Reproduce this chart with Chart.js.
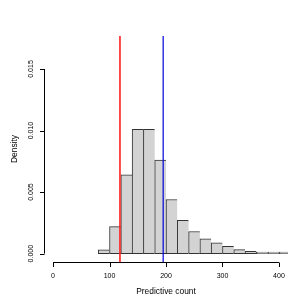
<!DOCTYPE html>
<html>
<head>
    <title>Predictive count</title>
    <script src="https://cdn.jsdelivr.net/npm/chart.js"></script>
    <style>
        html, body { margin: 0; padding: 0; background: #fff; }
        #wrap { width: 307px; height: 307px; }
    </style>
</head>
<body>
    <div id="wrap"><canvas id="histChart" width="307" height="307"></canvas></div>

    <script>
        // Histogram bins (width 20) and densities
        const binCenters = [90, 110, 130, 150, 170, 190, 210, 230, 250, 270, 290, 310, 330, 350, 370, 390, 410];
        const densities = [0.0003, 0.0022, 0.0064, 0.0101, 0.0101, 0.0076, 0.0044, 0.0027, 0.0018,
                           0.0012, 0.00087, 0.0006, 0.00033, 0.00019, 0.00013, 0.00013, 0.00012];

        // Vertical reference lines
        const redLine = 118.5;
        const blueLine = 195;

        // Axis ranges (R style with 4% extension) and ticks
        const xMin = -16, xMax = 416;
        const yMin = -0.00068, yMax = 0.01768;
        const xTicks = [0, 100, 200, 300, 400];
        const yTicks = [0, 0.005, 0.010, 0.015];
        const yTickLabels = ['0.000', '0.005', '0.010', '0.015'];

        const FONT = '"Liberation Sans", Arial, sans-serif';

        // Axes drawn R-like (axis line only over the tick range)
        const rAxes = {
            id: 'rAxes',
            afterDraw(chart) {
                const ctx = chart.ctx;
                const xs = chart.scales.x, ys = chart.scales.y;
                const area = chart.chartArea;
                ctx.save();
                ctx.strokeStyle = '#000';
                ctx.fillStyle = '#000';
                ctx.lineWidth = 1;

                // x axis
                const yA = Math.round(area.bottom) + 0.5;
                ctx.beginPath();
                ctx.moveTo(xs.getPixelForValue(xTicks[0]), yA);
                ctx.lineTo(xs.getPixelForValue(xTicks[xTicks.length - 1]), yA);
                xTicks.forEach(t => {
                    const px = Math.round(xs.getPixelForValue(t)) + 0.5;
                    ctx.moveTo(px, yA);
                    ctx.lineTo(px, yA + 4.5);
                });
                ctx.stroke();
                ctx.font = '7px ' + FONT;
                ctx.textAlign = 'center';
                ctx.textBaseline = 'middle';
                xTicks.forEach(t => ctx.fillText(String(t), xs.getPixelForValue(t), yA + 14));

                // y axis
                const xA = Math.round(area.left) + 0.5;
                ctx.beginPath();
                ctx.moveTo(xA, ys.getPixelForValue(yTicks[0]));
                ctx.lineTo(xA, ys.getPixelForValue(yTicks[yTicks.length - 1]));
                yTicks.forEach(t => {
                    const py = Math.round(ys.getPixelForValue(t)) + 0.5;
                    ctx.moveTo(xA, py);
                    ctx.lineTo(xA - 4.5, py);
                });
                ctx.stroke();
                yTicks.forEach((t, i) => {
                    ctx.save();
                    ctx.translate(xA - 13, ys.getPixelForValue(t));
                    ctx.rotate(-Math.PI / 2);
                    ctx.fillText(yTickLabels[i], 0, 0);
                    ctx.restore();
                });

                // axis titles
                ctx.font = '8.4px ' + FONT;
                ctx.fillText('Predictive count', (area.left + area.right) / 2, 292);
                ctx.save();
                ctx.translate(15, (area.top + area.bottom) / 2);
                ctx.rotate(-Math.PI / 2);
                ctx.fillText('Density', 0, 0);
                ctx.restore();
                ctx.restore();
            }
        };

        const ctxHist = document.getElementById('histChart').getContext('2d');
        new Chart(ctxHist, {
            type: 'bar',
            data: {
                datasets: [
                    {
                        type: 'line',
                        data: [{ x: redLine, y: yMin }, { x: redLine, y: yMax }],
                        borderColor: '#FF2020',
                        borderWidth: 1.6,
                        pointRadius: 0,
                        order: 0
                    },
                    {
                        type: 'line',
                        data: [{ x: blueLine, y: yMin }, { x: blueLine, y: yMax }],
                        borderColor: '#0000E0',
                        borderWidth: 1.2,
                        pointRadius: 0,
                        order: 0
                    },
                    {
                        type: 'bar',
                        data: binCenters.map((c, i) => ({ x: c, y: densities[i] })),
                        backgroundColor: '#D3D3D3',
                        borderColor: '#333333',
                        borderSkipped: false,
                        borderWidth: c => ({
                            top: 1, left: 1, bottom: 1,
                            right: c.dataIndex === binCenters.length - 1 ? 1 : 0
                        }),
                        base: 0,
                        barPercentage: 1,
                        categoryPercentage: 1,
                        order: 1
                    }
                ]
            },
            options: {
                responsive: false,
                animation: false,
                events: [],
                layout: { padding: { left: 44, right: 19, top: 36, bottom: 45 } },
                scales: {
                    x: { type: 'linear', min: xMin, max: xMax, offset: false, display: false },
                    y: { type: 'linear', min: yMin, max: yMax, display: false }
                },
                plugins: {
                    legend: { display: false },
                    tooltip: { enabled: false }
                }
            },
            plugins: [rAxes]
        });
    </script>
</body>
</html>
